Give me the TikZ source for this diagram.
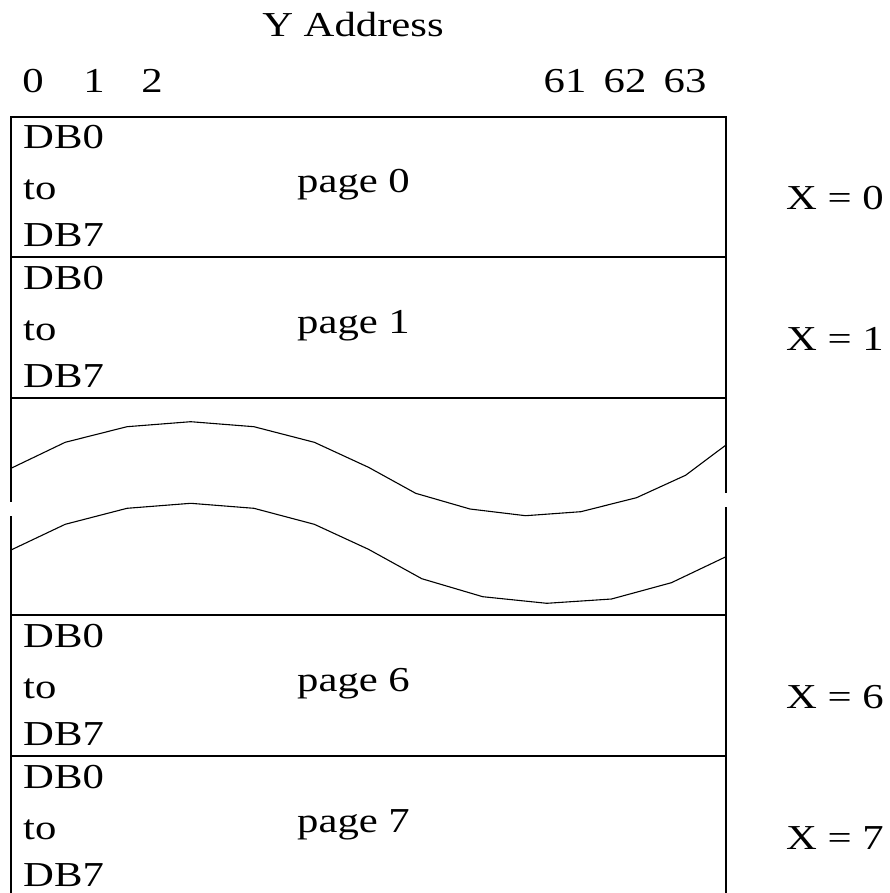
\documentclass[tikz,border=0pt]{standalone}
\usepackage{fontspec}
\setmainfont{Liberation Serif}[FakeStretch=1.22]
\begin{document}
\begin{tikzpicture}[x=1pt,y=-1pt,
  lbl/.style={inner sep=0pt,anchor=base west,font=\fontsize{35}{40}\selectfont},
  num/.style={inner sep=0pt,anchor=base,font=\fontsize{35}{40}\selectfont},
  frame/.style={line width=1.3pt},
  wave/.style={line width=1.1pt,line join=round}]
\useasboundingbox (0,0) rectangle (890,893);
% header
\node[num] (yaddr) at (353,37) {Y Address};
\node[num] (y0) at (33,93) {0};
\node[num] (y1) at (94,93) {1};
\node[num] (y2) at (152,93) {2};
\node[num] (y61) at (565,93) {61};
\node[num] (y62) at (625,93) {62};
\node[num] (y63) at (685,93) {63};
% frame
\draw[frame] (11,893) -- (11,117) -- (726,117) -- (726,893);
\foreach \yy in {257,398,615,756} \draw[frame] (11,\yy) -- (726,\yy);
% gaps in the side lines
\fill[white] (5,502) rectangle (17,516);
\fill[white] (720,493) rectangle (732,507);
% waves
\draw[wave] (11,468.3) -- (65.2,442.3) -- (127,426.7) -- (190.7,421.7) -- (253.9,426.7) -- (314.3,442.3) -- (368.5,467.3) -- (415.7,493.3) -- (470,509) -- (525.6,515.7) -- (580.8,511.7) -- (636.5,497.7) -- (685.5,475.3) -- (726,445);
\draw[wave] (11,550) -- (65.2,524.3) -- (127,508.3) -- (190.7,503.3) -- (253.9,508.3) -- (314.3,524.3) -- (368.5,549.3) -- (421.8,578.7) -- (482.7,596.7) -- (546.8,603.3) -- (611.5,599) -- (671.4,582.7) -- (726,556.7);
% rows
\foreach \t/\p/\n in {117/0/0,257/1/1,615/6/6,756/7/7}{
  \node[lbl] (dba\p) at (23,\t+32) {DB0};
  \node[lbl] (to\p) at (23,\t+83) {to};
  \node[lbl] (dbb\p) at (23,\t+130) {DB7};
  \node[lbl] (page\p) at (297,\t+76) {page \p};
  \node[lbl] (x\p) at (786,\t+93) {X = \n};
}
\end{tikzpicture}
\end{document}
